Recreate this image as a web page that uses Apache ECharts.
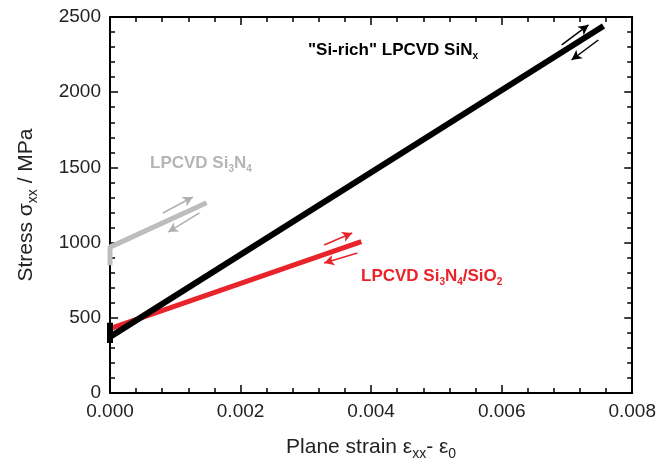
<!DOCTYPE html>
<html>
<head>
<meta charset="utf-8">
<script src="https://cdn.jsdelivr.net/npm/echarts@6/dist/echarts.min.js"></script>
<style>
html, body { margin: 0; padding: 0; background: #fff; }
#tubiao { width: 659px; height: 468px; }
</style>
</head>
<body>
<div id="tubiao"></div>
<script>
// strain, stress (MPa)
var siRich = [[0, 333], [0, 467], [0, 373], [0.00756, 2440]];
var si3n4 = [[0, 850], [0, 970], [0, 962], [0.00148, 1265]];
var si3n4SiO2 = [[0, 428], [0.00385, 1007]];

// loading / unloading arrows: [from, to]
var siRichArrows = [[[0.00692, 2314], [0.00733, 2447]], [[0.00748, 2347], [0.00707, 2214]]];
var si3n4Arrows = [[[0.00081, 1197], [0.00127, 1303]], [[0.00137, 1197], [0.00089, 1070]]];
var siO2Arrows = [[[0.00328, 984], [0.00371, 1064]], [[0.00379, 931], [0.00328, 864]]];

var xTicks = [0, 0.008, 0.002];   // min, max, interval
var yTicks = [0, 2500, 500];

var FONT = 'Liberation Sans, Arial, sans-serif';

function arrowLines(list) {
	return list.map(function (a) {
		return [{ coord: a[0] }, { coord: a[1] }];
	});
}

function arrowSeries(list, color) {
	return {
		type: 'line',
		data: [],
		silent: true,
		markLine: {
			silent: true,
			symbol: ['none', 'arrow'],
			symbolSize: [8, 10],
			label: { show: false },
			lineStyle: { color: color, width: 1.5, type: 'solid' },
			data: arrowLines(list),
			animation: false
		}
	};
}

function baseX(show) {
	return {
		type: 'value', min: xTicks[0], max: xTicks[1], interval: xTicks[2],
		axisLine: { show: true, onZero: false, lineStyle: { color: '#000', width: 2 } },
		axisTick: { show: true, inside: true, length: 8, lineStyle: { color: '#000', width: 1.5 } },
		minorTick: { show: true, splitNumber: 5, length: 5, lineStyle: { color: '#000', width: 1.5 } },
		splitLine: { show: false },
		axisLabel: { show: show, color: '#222', fontSize: 19, fontFamily: FONT, margin: 9,
			formatter: function (v) { return v.toFixed(3); } }
	};
}
function baseY(show) {
	return {
		type: 'value', min: yTicks[0], max: yTicks[1], interval: yTicks[2],
		axisLine: { show: true, onZero: false, lineStyle: { color: '#000', width: 2 } },
		axisTick: { show: true, inside: true, length: 8, lineStyle: { color: '#000', width: 1.5 } },
		minorTick: { show: true, splitNumber: 5, length: 5, lineStyle: { color: '#000', width: 1.5 } },
		splitLine: { show: false },
		axisLabel: { show: show, color: '#222', fontSize: 19, fontFamily: FONT, margin: 9,
			formatter: function (v) { return String(v); } }
	};
}

var chart = echarts.init(document.getElementById('tubiao'));

var nameRich = {
	n: { fontSize: 21, fontFamily: FONT, color: '#222', lineHeight: 28 },
	s: { fontSize: 14, fontFamily: FONT, color: '#222', verticalAlign: 'bottom', lineHeight: 18, padding: [12, 0, 0, 0] }
};

var xMain = baseX(true);
xMain.name = '{n|Plane strain ε}{s|xx}{n|- ε}{s|0}';
xMain.nameLocation = 'middle';
xMain.nameGap = 40;
xMain.nameTextStyle = { rich: nameRich };
var xTop = baseX(false);
xTop.position = 'top';

var yMain = baseY(true);
yMain.name = '{n|Stress σ}{s|xx}{n| / MPa}';
yMain.nameLocation = 'middle';
yMain.nameGap = 70;
yMain.nameTextStyle = { rich: nameRich };
var yRight = baseY(false);
yRight.position = 'right';

var lbl = function (color) {
	return {
		b: { fontSize: 17, fontWeight: 'bold', fontFamily: FONT, fill: color, lineHeight: 22 },
		s: { fontSize: 10, fontWeight: 'bold', fontFamily: FONT, fill: color, verticalAlign: 'bottom', lineHeight: 13, padding: [9, 0, 0, 0] }
	};
};

var option = {
	animation: false,
	backgroundColor: '#fff',
	grid: { left: 110, right: 25, top: 17, bottom: 75 },
	xAxis: [xMain, xTop],
	yAxis: [yMain, yRight],
	series: [
		{ name: 'LPCVD Si3N4', type: 'line', data: si3n4, showSymbol: false, symbol: 'none',
			lineStyle: { color: '#bdbdbd', width: 5 } },
		{ name: 'LPCVD Si3N4/SiO2', type: 'line', data: si3n4SiO2, showSymbol: false, symbol: 'none',
			lineStyle: { color: '#e8232a', width: 5 } },
		{ name: 'Si-rich LPCVD SiNx', type: 'line', data: siRich, showSymbol: false, symbol: 'none',
			lineStyle: { color: '#000', width: 6 } },
		arrowSeries(si3n4Arrows, '#b0b0b0'),
		arrowSeries(siO2Arrows, '#e8232a'),
		arrowSeries(siRichArrows, '#000')
	],
	graphic: [
		{ type: 'text', left: 308, top: 42,
			style: { text: '{b|"Si-rich" LPCVD SiN}{s|x}', rich: lbl('#000') } },
		{ type: 'text', left: 150, top: 155,
			style: { text: '{b|LPCVD Si}{s|3}{b|N}{s|4}', rich: lbl('#b5b5b5') } },
		{ type: 'text', left: 361, top: 268,
			style: { text: '{b|LPCVD Si}{s|3}{b|N}{s|4}{b|/SiO}{s|2}', rich: lbl('#e8232a') } }
	]
};
chart.setOption(option);
</script>
</body>
</html>
